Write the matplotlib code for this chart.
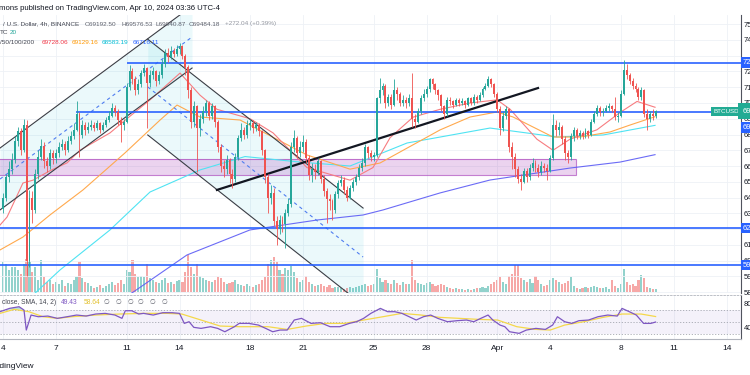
import numpy as np
import matplotlib.pyplot as plt
import matplotlib.transforms as mtransforms

plt.rcParams['font.family'] = ['Liberation Sans', 'DejaVu Sans']

# 4h candles from Mar 4 00:00 (UTC-4), prices in thousands of USD
first_open = 63.3
closes = [
    64.0, 65.3, 65.8, 66.4, 67.6, 68.2,
    67.0, 68.6, 60.0, 64.0, 63.2, 65.5,
    66.6, 67.3, 66.3, 66.0, 66.8, 66.5,
    66.8, 67.2, 67.4, 67.0, 67.6, 67.9,
    68.3, 69.3, 68.0, 68.6, 68.3, 68.5,
    68.6, 68.4, 68.7, 68.3, 68.6, 68.9,
    69.2, 69.7, 69.4, 68.9, 68.6, 68.8,
    71.0, 72.0, 71.5, 70.8, 71.2, 71.9,
    72.2, 71.3, 71.8, 72.0, 71.4, 71.8,
    72.5, 73.2, 72.9, 73.3, 73.1, 73.4,
    73.6, 73.0, 72.3, 70.8, 68.8, 69.8,
    68.4, 69.0, 69.5, 70.0, 69.2, 69.8,
    68.8, 67.2, 66.0, 65.8, 66.4, 65.5,
    65.2, 66.6, 67.8, 68.3, 68.0, 68.6,
    68.7, 68.4, 68.6, 68.2, 67.0, 65.3,
    64.0, 64.3, 62.5, 62.0, 62.6, 62.3,
    63.0, 63.6, 67.2, 67.8, 66.8, 67.2,
    67.5, 66.5, 65.4, 65.8, 65.6, 66.3,
    65.2, 64.4, 63.9, 63.8, 63.2, 64.2,
    64.9, 65.1, 64.5, 64.0, 64.6, 65.0,
    65.3, 65.9, 66.2, 67.2, 66.8, 66.6,
    66.7, 70.3, 70.8, 71.1, 70.0, 70.4,
    69.9, 70.8, 70.6, 70.0, 70.2, 70.0,
    70.3, 69.0, 68.8, 69.5, 70.3, 70.6,
    70.9, 71.5, 71.2, 70.8, 70.5, 69.8,
    69.3, 70.2, 70.1, 69.9, 70.2, 70.0,
    70.1, 69.9, 70.3, 70.0, 70.4, 70.2,
    70.5, 70.9, 71.1, 71.5, 71.2, 70.6,
    69.6, 68.4, 69.2, 69.6, 67.2, 66.6,
    65.8, 65.2, 65.0, 65.7, 65.3, 65.9,
    66.2, 65.9, 65.6, 66.0, 65.9, 65.7,
    66.5, 68.6, 68.3, 68.5, 67.7, 66.8,
    66.6, 67.9, 68.3, 67.9, 68.1, 67.9,
    68.2, 68.0, 68.8, 69.3, 69.7, 69.4,
    69.5, 69.7, 69.8, 69.6, 69.1, 69.2,
    70.6, 72.1, 71.8, 71.4, 71.1, 70.9,
    70.4, 70.8, 69.3, 69.0, 69.3, 69.19,
    69.48,
]
highs = [
    64.3, 65.5, 66.3, 66.8, 67.9, 68.5,
    68.4, 69.0, 68.9, 64.5, 64.4, 65.8,
    67.0, 67.7, 67.5, 66.6, 67.1, 67.0,
    67.1, 67.5, 67.7, 67.6, 67.9, 68.2,
    68.7, 70.1, 69.4, 68.9, 68.8, 68.8,
    68.9, 68.8, 68.9, 68.8, 68.8, 69.1,
    69.5, 70.0, 69.9, 69.6, 69.1, 69.0,
    71.3, 72.4, 72.2, 71.7, 71.5, 72.1,
    72.5, 72.3, 72.1, 72.3, 72.1, 72.0,
    72.8, 73.4, 73.5, 73.6, 73.5, 73.7,
    73.8, 73.7, 73.1, 72.4, 71.0, 70.1,
    69.9, 69.3, 69.8, 70.2, 70.1, 70.0,
    69.9, 68.9, 67.4, 66.4, 66.7, 66.5,
    65.8, 66.8, 68.0, 68.7, 68.5, 68.9,
    69.0, 68.9, 68.8, 68.7, 68.3, 67.1,
    65.5, 64.8, 64.6, 62.8, 62.9, 62.8,
    63.3, 64.0, 67.5, 68.3, 67.9, 67.6,
    68.0, 67.7, 66.7, 66.2, 66.1, 66.5,
    66.4, 65.4, 64.6, 64.2, 63.9, 64.4,
    65.1, 65.4, 65.3, 64.7, 64.8, 65.2,
    65.5, 66.1, 66.5, 67.4, 67.3, 67.0,
    66.9, 70.4, 71.6, 71.3, 71.2, 70.6,
    70.6, 71.5, 71.0, 70.7, 70.5, 70.4,
    70.6, 71.9, 69.3, 69.7, 70.5, 70.9,
    71.1, 71.6, 71.6, 71.3, 70.9, 70.6,
    69.9, 70.4, 70.4, 70.2, 70.3, 70.3,
    70.3, 70.2, 70.4, 70.4, 70.6, 70.5,
    70.7, 71.0, 71.3, 71.7, 71.6, 71.3,
    70.7, 69.8, 69.5, 69.8, 69.7, 67.5,
    66.8, 66.0, 65.5, 65.9, 65.9, 66.1,
    66.5, 66.4, 66.1, 66.3, 66.2, 66.1,
    66.7, 69.3, 68.9, 68.8, 68.6, 67.9,
    67.0, 68.1, 68.5, 68.4, 68.3, 68.2,
    68.4, 68.3, 69.0, 69.5, 69.9, 69.8,
    69.7, 69.9, 70.0, 69.9, 70.4, 69.4,
    70.8, 72.7, 72.5, 71.9, 71.6, 71.3,
    71.0, 71.0, 70.9, 69.6, 69.5, 69.6,
    69.58,
]
lows = [
    63.0, 63.8, 65.0, 65.5, 66.2, 67.3,
    66.7, 66.9, 59.0, 59.6, 62.4, 63.0,
    65.2, 66.4, 65.9, 65.6, 65.8, 66.1,
    66.2, 66.6, 67.0, 66.7, 66.9, 67.4,
    67.7, 68.2, 66.6, 67.8, 68.0, 68.1,
    68.3, 68.2, 68.3, 68.1, 68.2, 68.5,
    68.8, 69.1, 69.2, 68.6, 67.5, 68.3,
    68.7, 70.8, 71.2, 70.5, 70.6, 71.0,
    71.7, 68.4, 71.0, 71.5, 71.1, 71.2,
    71.6, 72.3, 72.6, 72.8, 72.9, 73.0,
    73.1, 72.8, 71.8, 70.3, 68.4, 68.5,
    65.6, 67.9, 68.7, 69.2, 68.9, 69.0,
    68.5, 66.9, 65.6, 65.3, 65.5, 64.9,
    64.6, 65.0, 66.4, 67.6, 67.7, 67.8,
    68.3, 68.1, 68.2, 67.9, 66.7, 64.9,
    63.0, 63.6, 62.2, 61.0, 61.7, 61.8,
    60.8, 62.8, 63.4, 66.9, 66.5, 66.6,
    66.9, 66.2, 65.1, 65.0, 65.2, 65.4,
    64.9, 64.1, 62.4, 63.2, 62.6, 63.0,
    64.0, 64.7, 64.2, 63.8, 63.9, 64.4,
    64.8, 65.1, 65.7, 66.0, 66.5, 66.3,
    66.3, 66.6, 70.0, 70.5, 69.7, 69.8,
    69.6, 69.8, 70.2, 69.8, 69.8, 69.7,
    69.8, 68.5, 68.4, 68.7, 69.3, 70.1,
    70.4, 70.7, 70.9, 70.6, 70.2, 69.5,
    69.0, 69.2, 69.9, 69.7, 69.8, 69.8,
    69.9, 69.7, 69.8, 69.9, 69.9, 70.0,
    70.1, 70.4, 70.8, 71.0, 71.0, 70.4,
    69.4, 68.0, 68.2, 69.0, 66.9, 65.8,
    65.3, 64.9, 64.5, 64.9, 65.0, 65.1,
    65.7, 65.6, 65.3, 65.4, 65.6, 65.1,
    65.6, 66.4, 67.9, 68.0, 67.4, 66.4,
    66.2, 66.4, 67.6, 67.7, 67.7, 67.7,
    67.8, 67.8, 67.9, 68.7, 69.2, 69.2,
    69.2, 69.4, 69.5, 69.4, 68.9, 68.8,
    69.1, 70.5, 71.5, 71.2, 70.9, 70.7,
    70.2, 70.2, 69.1, 68.3, 68.8, 68.9,
    69.04,
]
volumes = [
    30, 28, 22, 25, 25, 22, 18, 28, 33, 30, 20, 25,
    12, 32, 15, 10, 12, 8, 10, 8, 12, 6, 9, 8,
    12, 15, 30, 14, 10, 9, 6, 4, 5, 7, 4, 6,
    8, 10, 7, 9, 12, 8, 22, 20, 32, 18, 15, 16,
    15, 28, 14, 12, 10, 9, 12, 14, 9, 10, 8, 11,
    12, 10, 20, 37, 25, 18, 28, 16, 14, 12, 11, 10,
    12, 15, 14, 10, 8, 9, 10, 12, 8, 7, 6, 8,
    6, 5, 7, 8, 12, 15, 28, 32, 35, 30, 22, 18,
    24, 22, 26, 20, 14, 10, 12, 16, 10, 8, 6, 7,
    8, 6, 5, 7, 4, 5, 5, 4, 3, 4, 5, 4,
    5, 6, 7, 8, 6, 7, 8, 23, 14, 10, 12, 9,
    8, 12, 9, 7, 10, 8, 8, 32, 12, 9, 8, 7,
    9, 10, 8, 6, 7, 8, 7, 5, 4, 3, 4, 3,
    3, 2, 3, 2, 3, 4, 4, 5, 4, 6, 8, 10,
    12, 15, 10, 8, 16, 18, 27, 27, 14, 12, 10, 13,
    9, 16, 12, 8, 6, 7, 12, 14, 12, 10, 8, 9,
    11, 15, 6, 4, 3, 4, 5, 4, 5, 6, 5, 4,
    4, 5, 3, 12, 6, 4, 8, 23, 10, 7, 8, 6,
    12, 17, 14, 5, 4, 3, 3,
]

# moving averages (day since Mar 4, price in thousands)
ma20_t = [-0.17, 0.23, 1.13, 1.70, 2.66, 3.63, 4.36, 6.06, 6.91, 8.33, 10.03, 11.16, 12.12, 14.0, 15.3,
          17.22, 19.66, 20.96, 21.93, 23.23, 24.76, 26.46, 27.99, 28.73, 30.25, 31.16, 32.12, 33.65,
          34.96, 35.92, 36.94]
ma20_v = [62.25, 62.76, 64.92, 65.1, 65.7, 66.2, 67.0, 68.1, 68.9, 70.2, 71.9, 70.5, 69.6, 69.0, 68.1,
          65.9, 65.1, 65.9, 67.8, 69.1, 69.6, 70.0, 70.2, 69.6, 67.7, 67.0, 67.7, 68.3,
          69.4, 70.1, 69.73]
ma50_t = [-0.17, 1.13, 2.66, 4.53, 6.91, 8.9, 9.86, 11.16, 13.43, 17.22, 19.66, 21.36, 24.76, 26.46,
          27.99, 28.9, 31.16, 32.69, 34.39, 35.52, 36.94]
ma50_v = [60.67, 61.49, 62.89, 64.48, 66.83, 68.92, 69.87, 69.11, 68.92, 66.7, 65.8, 66.19, 68.29, 69.11,
          69.43, 69.11, 67.84, 67.84, 68.16, 68.6, 69.13]
ma100_t = [0.96, 1.70, 3.23, 6.06, 8.33, 11.16, 13.71, 16.83, 19.66, 22.89, 27.59, 31.39, 34.0, 36.94]
ma100_v = [57.17, 57.81, 59.4, 61.94, 64.35, 65.75, 66.6, 66.25, 66.0, 67.46, 68.41, 67.84, 67.97, 68.58]
ma200_t = [6.63, 7.37, 10.42, 13.99, 17.79, 20.4, 21.53, 24.76, 27.59, 32.12, 34.96, 36.94]
ma200_v = [57.5, 57.99, 60.35, 61.94, 62.57, 62.89, 63.21, 64.29, 65.11, 65.87, 66.25, 66.72]

# RSI pane
rsi_t = [-0.17, 0.37, 0.91, 1.19, 1.32, 1.59, 2.0, 2.54, 3.08, 3.63, 4.17, 4.71, 5.25, 5.79, 6.34, 6.74,
         6.93, 7.29, 7.69, 7.96, 8.51, 9.05, 9.59, 10.0, 10.27, 10.54, 10.81, 11.22, 11.76, 12.16, 12.57,
         13.11, 13.38, 13.93, 14.47, 14.88, 15.28, 15.69, 16.1, 16.5, 16.91, 17.45, 17.99, 18.53, 19.08,
         19.62, 20.03, 20.43, 20.84, 21.38, 21.79, 22.19, 22.6, 23.01, 23.41, 23.82, 24.23, 24.63, 25.18,
         25.72, 26.26, 26.67, 27.07, 27.48, 27.75, 28.16, 28.43, 28.7, 29.24, 29.65, 30.19, 30.73, 31.14,
         31.41, 31.82, 32.22, 32.63, 33.17, 33.71, 34.26, 34.8, 35.07, 35.48, 35.88, 36.29, 36.7, 36.97]
rsi_v = [66.7, 72.2, 75.0, 69.4, 36.1, 61.1, 58.3, 59.4, 55.6, 58.3, 61.1, 59.4, 62.8, 63.9, 61.1, 55.6,
         68.3, 68.3, 62.8, 63.9, 61.1, 65.0, 65.0, 63.9, 47.2, 50.0, 40.6, 38.9, 41.7, 38.9, 33.3,
         41.7, 47.2, 47.2, 44.4, 38.9, 33.3, 36.1, 36.1, 52.8, 55.6, 47.2, 48.3, 41.7, 41.7,
         47.2, 50.0, 55.6, 63.9, 72.2, 66.7, 66.7, 63.9, 58.3, 52.8, 58.3, 61.1, 55.6, 50.0,
         51.7, 52.8, 50.0, 55.6, 61.1, 52.8, 44.4, 41.7, 33.3, 30.6, 36.1, 38.9, 37.2, 44.4,
         58.3, 50.0, 47.2, 51.7, 52.8, 58.3, 61.1, 59.4, 72.2, 66.7, 61.1, 47.2, 47.2, 49.43]
sma_t = [-0.17, 0.64, 1.46, 2.27, 3.08, 3.90, 5.25, 6.61, 7.96, 9.32, 10.13, 11.22, 12.3, 13.38, 15.01,
         16.1, 17.18, 18.26, 19.35, 20.43, 21.52, 22.6, 23.69, 24.77, 25.85, 26.94, 28.02, 29.11, 30.19,
         31.0, 31.82, 32.9, 33.99, 35.07, 36.15, 36.97]
sma_v = [63.9, 70.6, 66.7, 58.3, 55.6, 58.3, 61.1, 62.8, 63.9, 63.9, 62.8, 52.8, 42.8, 41.7, 41.7,
         37.2, 42.8, 47.2, 47.2, 52.8, 58.3, 63.9, 61.1, 57.2, 55.6, 53.9, 52.8, 41.7, 37.2,
         36.1, 44.4, 50.0, 57.2, 62.8, 62.8, 58.64]

# drawings
h_levels = [72.55, 69.45, 62.06, 59.71]
h_starts = [7.08, 4.19, -1.0, -1.0]
zone = (-1.0, 32.46, 65.43, 66.44)
asc_t = [-0.17, 10.71]
asc_upper = [67.14, 76.16]
asc_lower = [63.21, 72.22]
asc_mid = [65.17, 74.19]
desc_t = [8.2, 20.4]
desc_upper = [74.05, 63.33]
desc_lower = [67.97, 57.17]
desc_mid = [71.02, 60.22]
trend_t = [12.12, 30.31]
trend_v = [64.48, 70.95]

tick_days = [0, 3, 7, 10, 14, 17, 21, 24, 28, 31, 35, 38, 41]
tick_labels = ['4', '7', '11', '14', '18', '21', '25', '28', 'Apr', '4', '8', '11', '14']
price_ticks = list(range(58, 76))
hidden_ticks = [62, 73]   # covered by the level labels

UP, DOWN = '#26a69a', '#ef5350'
GRID = '#eef1f6'
TXT = '#131722'

W, H = 750, 375
fig = plt.figure(figsize=(7.5, 3.75), dpi=100)
fig.patch.set_facecolor('white')

x_left, x_right = -0.17, 41.81
ax = fig.add_axes([0, 1 - 293 / H, 741 / W, (293 - 15) / H])
axv = ax.twinx()
ax2 = fig.add_axes([0, 1 - 339 / H, 741 / W, (339 - 295) / H])

# volume underneath
opens = [first_open] + closes[:-1]
t = np.arange(len(closes)) / 6.0
cols = [UP if c >= o else DOWN for o, c in zip(opens, closes)]
axv.bar(t, volumes, width=0.12, color=cols, alpha=0.5, linewidth=0)
axv.set_ylim(-1, 277)
axv.axis('off')
ax.set_zorder(axv.get_zorder() + 1)
ax.patch.set_visible(False)

ax.set_xlim(x_left, x_right)
ax.set_ylim(57.937, 75.587)

# channels and zone
ax.fill_between(asc_t, asc_lower, asc_upper, color='#00bcd4', alpha=0.08, lw=0, zorder=1)
ax.fill_between(desc_t, desc_lower, desc_upper, color='#00bcd4', alpha=0.08, lw=0, zorder=1)
for tt, a, b, m in [(asc_t, asc_upper, asc_lower, asc_mid), (desc_t, desc_upper, desc_lower, desc_mid)]:
    ax.plot(tt, a, color='#3a3d45', lw=0.8, zorder=3)
    ax.plot(tt, b, color='#3a3d45', lw=0.8, zorder=3)
    ax.plot(tt, m, color='#4f7df0', lw=0.8, ls=(0, (3, 3)), zorder=3)
ax.add_patch(plt.Rectangle((zone[0], zone[2]), zone[1] - zone[0], zone[3] - zone[2],
                           facecolor='#9c27b0', alpha=0.2, edgecolor='none', zorder=1))
ax.add_patch(plt.Rectangle((zone[0], zone[2]), zone[1] - zone[0], zone[3] - zone[2],
                           facecolor='none', edgecolor='#ab47bc', lw=0.8, alpha=0.7, zorder=1))

# moving averages
ax.plot(ma200_t, ma200_v, color='#5b5bf5', lw=0.8, alpha=0.9, zorder=2)
ax.plot(ma100_t, ma100_v, color='#4fe3f2', lw=0.8, zorder=2)
ax.plot(ma50_t, ma50_v, color='#ffa94d', lw=0.8, zorder=2)
ax.plot(ma20_t, ma20_v, color='#f77c80', lw=0.8, zorder=2)

# horizontal levels
for lv, st in zip(h_levels, h_starts):
    ax.plot([st, x_right], [lv, lv], color='#2962ff', lw=1.4, alpha=0.85, zorder=3)

ax.plot(trend_t, trend_v, color=TXT, lw=1.6, zorder=4)

# candles
hi = np.maximum(np.array(highs), np.maximum(opens, closes))
lo = np.minimum(np.array(lows), np.minimum(opens, closes))
ax.vlines(t, lo, hi, colors=cols, lw=0.6, zorder=5)
body_lo = np.minimum(opens, closes)
body_h = np.maximum(np.abs(np.array(closes) - np.array(opens)), 0.03)
ax.bar(t, body_h, bottom=body_lo, width=0.11, color=cols, linewidth=0, zorder=6)

# grid & axes styling
ax.set_xticks(tick_days)
ax.set_yticks(price_ticks)
ax.grid(True, color=GRID, lw=0.6)
ax.set_axisbelow(True)
ax.tick_params(axis='x', length=0, labelbottom=False)
ax.yaxis.tick_right()
ax.set_yticklabels(['' if k in hidden_ticks else f'{k * 1000:.2f}' for k in price_ticks])
ax.tick_params(axis='y', length=0, pad=2, labelsize=5.5, colors=TXT)
for s in ['top', 'left', 'bottom']:
    ax.spines[s].set_visible(False)
ax.spines['right'].set_color('#50535e')
ax.spines['right'].set_linewidth(0.8)

# right side labels (drawn over the tick labels, as in the app)
blend = mtransforms.blended_transform_factory(ax.transAxes, ax.transData)
lab_kw = dict(transform=blend, fontsize=5.5, color='white', va='center', ha='left', clip_on=False, zorder=20)
for lv in [72.55, 62.06, 59.71]:
    ax.text(1.002, lv, f'{lv * 1000:.2f}', bbox=dict(boxstyle='square,pad=0.25', fc='#2962ff', ec='none'),
            **lab_kw)
ax.text(1.002, h_levels[1] - 1.0, f'{h_levels[1] * 1000:.2f}',
        bbox=dict(boxstyle='square,pad=0.25', fc='#2962ff', ec='none'), **lab_kw)
ax.text(1.002, closes[-1], f'{closes[-1] * 1000:.2f}',
        bbox=dict(boxstyle='square,pad=0.55', fc='#22ab94', ec='none'), **lab_kw)
ax.text(0.997, closes[-1], 'BTCUSD', transform=blend, fontsize=4.5, color='white', va='center', ha='right',
        zorder=8, bbox=dict(boxstyle='square,pad=0.35', fc='#22ab94', ec='none'))

# RSI pane
ax2.set_xlim(x_left, x_right)
ax2.set_ylim(21.2, 94.5)
ax2.axhspan(30, 70, color='#7e57c2', alpha=0.08, lw=0)
for lv in [70, 50, 30]:
    ax2.axhline(lv, color='#a3a6af', lw=0.6, ls=(0, (1.5, 2)))
rt = np.array(rsi_t)
rv = np.array(rsi_v)
ax2.fill_between(rt, 70, rv, where=rv > 70, interpolate=True, color='#26a69a', alpha=0.35, lw=0)
ax2.plot(sma_t, sma_v, color='#f5d84a', lw=0.9)
ax2.plot(rt, rv, color='#7e57c2', lw=0.9)
ax2.set_xticks(tick_days)
ax2.set_xticklabels(tick_labels)
ax2.tick_params(axis='x', length=0, pad=4, labelsize=6, colors=TXT)
ax2.grid(True, axis='x', color=GRID, lw=0.6)
ax2.set_axisbelow(True)
ax2.yaxis.tick_right()
ax2.set_yticks([40, 80])
ax2.set_yticklabels(['40.00', '80.00'])
ax2.tick_params(axis='y', length=0, pad=2, labelsize=5.5, colors=TXT)
ax2.spines['left'].set_visible(False)
ax2.spines['top'].set_linestyle((0, (2, 2)))
ax2.spines['top'].set_color('#b2b5be')
ax2.spines['top'].set_linewidth(0.6)
ax2.spines['bottom'].set_color('#b2b5be')
ax2.spines['bottom'].set_linewidth(0.8)
ax2.spines['right'].set_color('#50535e')
ax2.spines['right'].set_linewidth(0.8)


def ftext(x, y, s, color=TXT, size=4.6, **kw):
    fig.text(x / W, 1 - y / H, s, color=color, fontsize=size, va='center', ha='left', **kw)


# header
ftext(-1, 8, 'mons published on TradingView.com, Apr 10, 2024 03:36 UTC-4', size=5.6)
ftext(3, 24, '/ U.S. Dollar, 4h, BINANCE', color='#434651')
for x, s in [(85, 'O69192.50'), (121, 'H69576.53'), (155, 'L69040.87'), (189, 'C69484.18')]:
    ftext(x, 24, s, color='#5d606b')
ftext(225, 24, '+272.04 (+0.39%)', color='#9598a1')
ftext(0, 33, 'TC', color='#434651')
ftext(10, 33, '20', color='#26a69a')
ftext(0, 42, '/50/100/200', color='#434651')
ftext(42, 42, '69728.06', color='#f23645')
ftext(72, 42, '69129.16', color='#ff9800')
ftext(102, 42, '68583.19', color='#00bcd4')
ftext(133, 42, '66716.11', color='#2962ff')

# RSI legend
ftext(2, 302, 'close, SMA, 14, 2)', color='#434651', size=4.8)
ftext(61, 302, '49.43', color='#7e57c2', size=4.8)
ftext(84, 302, '58.64', color='#e2c02c', size=4.8)
for x in [104, 116, 127, 138, 149, 161]:
    ftext(x, 302, '\u2205', color='#5d606b', size=4.8)

ftext(-12, 366, 'TradingView', size=6)

fig.savefig('out.png', dpi=100)
